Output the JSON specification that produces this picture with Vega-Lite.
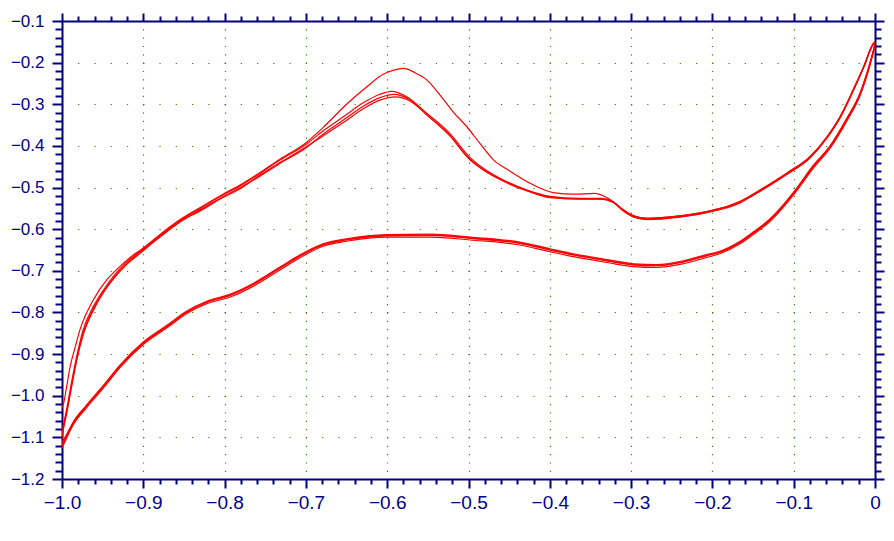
{
  "$schema": "https://vega.github.io/schema/vega-lite/v6.json",
  "width": 813,
  "height": 458,
  "autosize": "none",
  "padding": {"left": 62, "top": 21, "right": 19, "bottom": 62},
  "background": "white",
  "config": {"view": {"stroke": null}},
  "datasets": {
    "cv": [
      {"t":"1L","x":0,"y":-0.156},{"t":"1L","x":-0.006,"y":-0.200},{"t":"1L","x":-0.018,"y":-0.272},{"t":"1L","x":-0.035,"y":-0.336},{"t":"1L","x":-0.055,"y":-0.400},{"t":"1L","x":-0.076,"y":-0.449},{"t":"1L","x":-0.100,"y":-0.512},{"t":"1L","x":-0.129,"y":-0.577},{"t":"1L","x":-0.150,"y":-0.609},{"t":"1L","x":-0.166,"y":-0.631},{"t":"1L","x":-0.191,"y":-0.655},{"t":"1L","x":-0.207,"y":-0.663},{"t":"1L","x":-0.236,"y":-0.678},{"t":"1L","x":-0.269,"y":-0.687},{"t":"1L","x":-0.297,"y":-0.685},{"t":"1L","x":-0.330,"y":-0.675},{"t":"1L","x":-0.371,"y":-0.661},{"t":"1L","x":-0.400,"y":-0.649},{"t":"1L","x":-0.437,"y":-0.633},{"t":"1L","x":-0.498,"y":-0.621},{"t":"1L","x":-0.547,"y":-0.614},{"t":"1L","x":-0.601,"y":-0.615},{"t":"1L","x":-0.650,"y":-0.625},{"t":"1L","x":-0.679,"y":-0.637},{"t":"1L","x":-0.703,"y":-0.659},{"t":"1L","x":-0.732,"y":-0.693},{"t":"1L","x":-0.761,"y":-0.728},{"t":"1L","x":-0.793,"y":-0.758},{"t":"1L","x":-0.822,"y":-0.775},{"t":"1L","x":-0.847,"y":-0.799},{"t":"1L","x":-0.871,"y":-0.833},{"t":"1L","x":-0.900,"y":-0.873},{"t":"1L","x":-0.929,"y":-0.929},{"t":"1L","x":-0.949,"y":-0.976},{"t":"1L","x":-0.970,"y":-1.024},{"t":"1L","x":-0.986,"y":-1.063},{"t":"1L","x":-0.998,"y":-1.106},{"t":"1L","x":-1.0,"y":-1.112},
      {"t":"1U","x":-1.0,"y":-1.029},{"t":"1U","x":-0.998,"y":-1.018},{"t":"1U","x":-0.994,"y":-0.975},{"t":"1U","x":-0.990,"y":-0.930},{"t":"1U","x":-0.984,"y":-0.885},{"t":"1U","x":-0.978,"y":-0.842},{"t":"1U","x":-0.9615,"y":-0.770},{"t":"1U","x":-0.945,"y":-0.722},{"t":"1U","x":-0.929,"y":-0.690},{"t":"1U","x":-0.915,"y":-0.666},{"t":"1U","x":-0.902,"y":-0.648},{"t":"1U","x":-0.879,"y":-0.612},{"t":"1U","x":-0.857,"y":-0.580},{"t":"1U","x":-0.830,"y":-0.548},{"t":"1U","x":-0.802,"y":-0.516},{"t":"1U","x":-0.781,"y":-0.494},{"t":"1U","x":-0.761,"y":-0.470},{"t":"1U","x":-0.732,"y":-0.432},{"t":"1U","x":-0.701,"y":-0.394},{"t":"1U","x":-0.679,"y":-0.356},{"t":"1U","x":-0.650,"y":-0.300},{"t":"1U","x":-0.625,"y":-0.258},{"t":"1U","x":-0.605,"y":-0.228},{"t":"1U","x":-0.592,"y":-0.218},{"t":"1U","x":-0.580,"y":-0.214},{"t":"1U","x":-0.566,"y":-0.224},{"t":"1U","x":-0.551,"y":-0.242},{"t":"1U","x":-0.535,"y":-0.278},{"t":"1U","x":-0.519,"y":-0.318},{"t":"1U","x":-0.502,"y":-0.354},{"t":"1U","x":-0.486,"y":-0.394},{"t":"1U","x":-0.469,"y":-0.434},{"t":"1U","x":-0.451,"y":-0.458},{"t":"1U","x":-0.420,"y":-0.494},{"t":"1U","x":-0.396,"y":-0.512},{"t":"1U","x":-0.370,"y":-0.516},{"t":"1U","x":-0.345,"y":-0.514},{"t":"1U","x":-0.330,"y":-0.524},{"t":"1U","x":-0.322,"y":-0.534},{"t":"1U","x":-0.310,"y":-0.553},{"t":"1U","x":-0.297,"y":-0.568},{"t":"1U","x":-0.281,"y":-0.574},{"t":"1U","x":-0.240,"y":-0.568},{"t":"1U","x":-0.199,"y":-0.554},{"t":"1U","x":-0.166,"y":-0.535},{"t":"1U","x":-0.150,"y":-0.516},{"t":"1U","x":-0.109,"y":-0.466},{"t":"1U","x":-0.080,"y":-0.426},{"t":"1U","x":-0.059,"y":-0.378},{"t":"1U","x":-0.043,"y":-0.330},{"t":"1U","x":-0.027,"y":-0.266},{"t":"1U","x":-0.014,"y":-0.210},{"t":"1U","x":-0.002,"y":-0.154},{"t":"1U","x":0,"y":-0.150},

      {"t":"2L","x":0,"y":-0.158},{"t":"2L","x":-0.006,"y":-0.202},{"t":"2L","x":-0.018,"y":-0.274},{"t":"2L","x":-0.035,"y":-0.338},{"t":"2L","x":-0.055,"y":-0.402},{"t":"2L","x":-0.076,"y":-0.450},{"t":"2L","x":-0.100,"y":-0.514},{"t":"2L","x":-0.129,"y":-0.578},{"t":"2L","x":-0.150,"y":-0.610},{"t":"2L","x":-0.166,"y":-0.632},{"t":"2L","x":-0.191,"y":-0.656},{"t":"2L","x":-0.207,"y":-0.664},{"t":"2L","x":-0.236,"y":-0.679},{"t":"2L","x":-0.269,"y":-0.688},{"t":"2L","x":-0.297,"y":-0.686},{"t":"2L","x":-0.330,"y":-0.676},{"t":"2L","x":-0.371,"y":-0.662},{"t":"2L","x":-0.400,"y":-0.650},{"t":"2L","x":-0.437,"y":-0.634},{"t":"2L","x":-0.498,"y":-0.622},{"t":"2L","x":-0.547,"y":-0.615},{"t":"2L","x":-0.601,"y":-0.616},{"t":"2L","x":-0.650,"y":-0.626},{"t":"2L","x":-0.679,"y":-0.638},{"t":"2L","x":-0.703,"y":-0.660},{"t":"2L","x":-0.732,"y":-0.694},{"t":"2L","x":-0.761,"y":-0.729},{"t":"2L","x":-0.793,"y":-0.759},{"t":"2L","x":-0.822,"y":-0.776},{"t":"2L","x":-0.847,"y":-0.800},{"t":"2L","x":-0.871,"y":-0.834},{"t":"2L","x":-0.900,"y":-0.874},{"t":"2L","x":-0.929,"y":-0.930},{"t":"2L","x":-0.949,"y":-0.978},{"t":"2L","x":-0.970,"y":-1.026},{"t":"2L","x":-0.986,"y":-1.066},{"t":"2L","x":-0.998,"y":-1.114},{"t":"2L","x":-1.0,"y":-1.122},
      {"t":"2U","x":-1.0,"y":-1.094},{"t":"2U","x":-0.999,"y":-1.080},{"t":"2U","x":-0.994,"y":-1.030},{"t":"2U","x":-0.990,"y":-0.986},{"t":"2U","x":-0.982,"y":-0.906},{"t":"2U","x":-0.974,"y":-0.842},{"t":"2U","x":-0.9615,"y":-0.786},{"t":"2U","x":-0.949,"y":-0.746},{"t":"2U","x":-0.937,"y":-0.714},{"t":"2U","x":-0.920,"y":-0.678},{"t":"2U","x":-0.902,"y":-0.650},{"t":"2U","x":-0.879,"y":-0.614},{"t":"2U","x":-0.857,"y":-0.582},{"t":"2U","x":-0.830,"y":-0.550},{"t":"2U","x":-0.802,"y":-0.518},{"t":"2U","x":-0.781,"y":-0.496},{"t":"2U","x":-0.761,"y":-0.472},{"t":"2U","x":-0.732,"y":-0.434},{"t":"2U","x":-0.701,"y":-0.398},{"t":"2U","x":-0.679,"y":-0.364},{"t":"2U","x":-0.654,"y":-0.330},{"t":"2U","x":-0.629,"y":-0.296},{"t":"2U","x":-0.609,"y":-0.276},{"t":"2U","x":-0.595,"y":-0.269},{"t":"2U","x":-0.576,"y":-0.282},{"t":"2U","x":-0.551,"y":-0.322},{"t":"2U","x":-0.523,"y":-0.370},{"t":"2U","x":-0.498,"y":-0.428},{"t":"2U","x":-0.480,"y":-0.456},{"t":"2U","x":-0.457,"y":-0.482},{"t":"2U","x":-0.428,"y":-0.506},{"t":"2U","x":-0.400,"y":-0.521},{"t":"2U","x":-0.363,"y":-0.526},{"t":"2U","x":-0.338,"y":-0.526},{"t":"2U","x":-0.322,"y":-0.534},{"t":"2U","x":-0.310,"y":-0.553},{"t":"2U","x":-0.297,"y":-0.568},{"t":"2U","x":-0.281,"y":-0.574},{"t":"2U","x":-0.240,"y":-0.568},{"t":"2U","x":-0.199,"y":-0.554},{"t":"2U","x":-0.166,"y":-0.534},{"t":"2U","x":-0.150,"y":-0.516},{"t":"2U","x":-0.109,"y":-0.466},{"t":"2U","x":-0.080,"y":-0.426},{"t":"2U","x":-0.059,"y":-0.378},{"t":"2U","x":-0.043,"y":-0.330},{"t":"2U","x":-0.027,"y":-0.266},{"t":"2U","x":-0.014,"y":-0.210},{"t":"2U","x":-0.002,"y":-0.154},{"t":"2U","x":0,"y":-0.150},

      {"t":"3L","x":0,"y":-0.160},{"t":"3L","x":-0.006,"y":-0.205},{"t":"3L","x":-0.018,"y":-0.277},{"t":"3L","x":-0.035,"y":-0.341},{"t":"3L","x":-0.055,"y":-0.405},{"t":"3L","x":-0.076,"y":-0.454},{"t":"3L","x":-0.100,"y":-0.517},{"t":"3L","x":-0.129,"y":-0.581},{"t":"3L","x":-0.150,"y":-0.613},{"t":"3L","x":-0.166,"y":-0.635},{"t":"3L","x":-0.191,"y":-0.659},{"t":"3L","x":-0.207,"y":-0.668},{"t":"3L","x":-0.236,"y":-0.683},{"t":"3L","x":-0.269,"y":-0.692},{"t":"3L","x":-0.297,"y":-0.690},{"t":"3L","x":-0.330,"y":-0.680},{"t":"3L","x":-0.371,"y":-0.666},{"t":"3L","x":-0.400,"y":-0.654},{"t":"3L","x":-0.437,"y":-0.638},{"t":"3L","x":-0.498,"y":-0.626},{"t":"3L","x":-0.547,"y":-0.619},{"t":"3L","x":-0.601,"y":-0.619},{"t":"3L","x":-0.650,"y":-0.629},{"t":"3L","x":-0.679,"y":-0.641},{"t":"3L","x":-0.703,"y":-0.664},{"t":"3L","x":-0.732,"y":-0.698},{"t":"3L","x":-0.761,"y":-0.733},{"t":"3L","x":-0.793,"y":-0.763},{"t":"3L","x":-0.822,"y":-0.779},{"t":"3L","x":-0.847,"y":-0.803},{"t":"3L","x":-0.871,"y":-0.837},{"t":"3L","x":-0.900,"y":-0.877},{"t":"3L","x":-0.929,"y":-0.933},{"t":"3L","x":-0.949,"y":-0.981},{"t":"3L","x":-0.970,"y":-1.029},{"t":"3L","x":-0.986,"y":-1.069},{"t":"3L","x":-0.998,"y":-1.117},{"t":"3L","x":-1.0,"y":-1.125},
      {"t":"3U","x":-1.0,"y":-1.100},{"t":"3U","x":-0.999,"y":-1.086},{"t":"3U","x":-0.994,"y":-1.036},{"t":"3U","x":-0.990,"y":-0.994},{"t":"3U","x":-0.982,"y":-0.912},{"t":"3U","x":-0.974,"y":-0.850},{"t":"3U","x":-0.9615,"y":-0.792},{"t":"3U","x":-0.949,"y":-0.750},{"t":"3U","x":-0.937,"y":-0.718},{"t":"3U","x":-0.920,"y":-0.682},{"t":"3U","x":-0.902,"y":-0.652},{"t":"3U","x":-0.879,"y":-0.618},{"t":"3U","x":-0.857,"y":-0.586},{"t":"3U","x":-0.830,"y":-0.553},{"t":"3U","x":-0.802,"y":-0.522},{"t":"3U","x":-0.781,"y":-0.500},{"t":"3U","x":-0.761,"y":-0.478},{"t":"3U","x":-0.732,"y":-0.442},{"t":"3U","x":-0.701,"y":-0.406},{"t":"3U","x":-0.679,"y":-0.372},{"t":"3U","x":-0.654,"y":-0.338},{"t":"3U","x":-0.629,"y":-0.304},{"t":"3U","x":-0.609,"y":-0.284},{"t":"3U","x":-0.592,"y":-0.276},{"t":"3U","x":-0.573,"y":-0.288},{"t":"3U","x":-0.551,"y":-0.326},{"t":"3U","x":-0.523,"y":-0.374},{"t":"3U","x":-0.498,"y":-0.432},{"t":"3U","x":-0.480,"y":-0.459},{"t":"3U","x":-0.457,"y":-0.485},{"t":"3U","x":-0.428,"y":-0.508},{"t":"3U","x":-0.400,"y":-0.523},{"t":"3U","x":-0.363,"y":-0.528},{"t":"3U","x":-0.338,"y":-0.528},{"t":"3U","x":-0.322,"y":-0.536},{"t":"3U","x":-0.310,"y":-0.555},{"t":"3U","x":-0.297,"y":-0.570},{"t":"3U","x":-0.281,"y":-0.577},{"t":"3U","x":-0.240,"y":-0.571},{"t":"3U","x":-0.199,"y":-0.557},{"t":"3U","x":-0.166,"y":-0.537},{"t":"3U","x":-0.150,"y":-0.519},{"t":"3U","x":-0.109,"y":-0.469},{"t":"3U","x":-0.080,"y":-0.429},{"t":"3U","x":-0.059,"y":-0.381},{"t":"3U","x":-0.043,"y":-0.333},{"t":"3U","x":-0.027,"y":-0.269},{"t":"3U","x":-0.014,"y":-0.212},{"t":"3U","x":-0.002,"y":-0.156},{"t":"3U","x":0,"y":-0.152},

      {"t":"4L","x":0,"y":-0.156},{"t":"4L","x":-0.006,"y":-0.199},{"t":"4L","x":-0.018,"y":-0.271},{"t":"4L","x":-0.035,"y":-0.335},{"t":"4L","x":-0.055,"y":-0.399},{"t":"4L","x":-0.076,"y":-0.447},{"t":"4L","x":-0.100,"y":-0.511},{"t":"4L","x":-0.129,"y":-0.575},{"t":"4L","x":-0.150,"y":-0.607},{"t":"4L","x":-0.166,"y":-0.629},{"t":"4L","x":-0.191,"y":-0.653},{"t":"4L","x":-0.207,"y":-0.661},{"t":"4L","x":-0.236,"y":-0.676},{"t":"4L","x":-0.269,"y":-0.685},{"t":"4L","x":-0.297,"y":-0.683},{"t":"4L","x":-0.330,"y":-0.673},{"t":"4L","x":-0.371,"y":-0.659},{"t":"4L","x":-0.400,"y":-0.647},{"t":"4L","x":-0.437,"y":-0.631},{"t":"4L","x":-0.498,"y":-0.619},{"t":"4L","x":-0.547,"y":-0.612},{"t":"4L","x":-0.601,"y":-0.613},{"t":"4L","x":-0.650,"y":-0.623},{"t":"4L","x":-0.679,"y":-0.635},{"t":"4L","x":-0.703,"y":-0.657},{"t":"4L","x":-0.732,"y":-0.691},{"t":"4L","x":-0.761,"y":-0.726},{"t":"4L","x":-0.793,"y":-0.756},{"t":"4L","x":-0.822,"y":-0.773},{"t":"4L","x":-0.847,"y":-0.797},{"t":"4L","x":-0.871,"y":-0.831},{"t":"4L","x":-0.900,"y":-0.871},{"t":"4L","x":-0.929,"y":-0.927},{"t":"4L","x":-0.949,"y":-0.975},{"t":"4L","x":-0.970,"y":-1.023},{"t":"4L","x":-0.986,"y":-1.063},{"t":"4L","x":-0.998,"y":-1.111},{"t":"4L","x":-1.0,"y":-1.119},
      {"t":"4U","x":-1.0,"y":-1.104},{"t":"4U","x":-0.999,"y":-1.090},{"t":"4U","x":-0.994,"y":-1.040},{"t":"4U","x":-0.990,"y":-0.998},{"t":"4U","x":-0.982,"y":-0.916},{"t":"4U","x":-0.974,"y":-0.854},{"t":"4U","x":-0.9615,"y":-0.795},{"t":"4U","x":-0.949,"y":-0.752},{"t":"4U","x":-0.937,"y":-0.720},{"t":"4U","x":-0.920,"y":-0.684},{"t":"4U","x":-0.902,"y":-0.655},{"t":"4U","x":-0.879,"y":-0.617},{"t":"4U","x":-0.857,"y":-0.584},{"t":"4U","x":-0.830,"y":-0.556},{"t":"4U","x":-0.802,"y":-0.524},{"t":"4U","x":-0.781,"y":-0.503},{"t":"4U","x":-0.761,"y":-0.476},{"t":"4U","x":-0.732,"y":-0.440},{"t":"4U","x":-0.701,"y":-0.404},{"t":"4U","x":-0.679,"y":-0.376},{"t":"4U","x":-0.654,"y":-0.344},{"t":"4U","x":-0.629,"y":-0.310},{"t":"4U","x":-0.609,"y":-0.290},{"t":"4U","x":-0.590,"y":-0.282},{"t":"4U","x":-0.572,"y":-0.292},{"t":"4U","x":-0.551,"y":-0.326},{"t":"4U","x":-0.523,"y":-0.376},{"t":"4U","x":-0.498,"y":-0.434},{"t":"4U","x":-0.480,"y":-0.460},{"t":"4U","x":-0.457,"y":-0.484},{"t":"4U","x":-0.428,"y":-0.507},{"t":"4U","x":-0.400,"y":-0.524},{"t":"4U","x":-0.363,"y":-0.527},{"t":"4U","x":-0.338,"y":-0.527},{"t":"4U","x":-0.322,"y":-0.535},{"t":"4U","x":-0.310,"y":-0.556},{"t":"4U","x":-0.297,"y":-0.571},{"t":"4U","x":-0.281,"y":-0.576},{"t":"4U","x":-0.240,"y":-0.570},{"t":"4U","x":-0.199,"y":-0.556},{"t":"4U","x":-0.166,"y":-0.533},{"t":"4U","x":-0.150,"y":-0.518},{"t":"4U","x":-0.109,"y":-0.468},{"t":"4U","x":-0.080,"y":-0.428},{"t":"4U","x":-0.059,"y":-0.380},{"t":"4U","x":-0.043,"y":-0.332},{"t":"4U","x":-0.027,"y":-0.268},{"t":"4U","x":-0.014,"y":-0.211},{"t":"4U","x":-0.002,"y":-0.155},{"t":"4U","x":0,"y":-0.151}
    ]
  },
  "data": {"name": "cv"},
  "resolve": {"axis": {"x": "independent", "y": "independent"}},
  "layer": [
    {
      "transform": [{"filter": "indexof(['1L','1U','2L','2U'], datum.t) >= 0"}],
      "mark": {"type": "line", "color": "#ff0000", "strokeWidth": 1.2, "clip": true, "interpolate": "monotone"},
      "encoding": {
        "x": {
          "field": "x", "type": "quantitative",
          "scale": {"domain": [-1, 0], "nice": false, "zero": false},
          "axis": {
            "orient": "bottom", "title": null,
            "values": [-1,-0.98,-0.96,-0.94,-0.92,-0.9,-0.88,-0.86,-0.84,-0.82,-0.8,-0.78,-0.76,-0.74,-0.72,-0.7,-0.68,-0.66,-0.64,-0.62,-0.6,-0.58,-0.56,-0.54,-0.52,-0.5,-0.48,-0.46,-0.44,-0.42,-0.4,-0.38,-0.36,-0.34,-0.32,-0.3,-0.28,-0.26,-0.24,-0.22,-0.2,-0.18,-0.16,-0.14,-0.12,-0.1,-0.08,-0.06,-0.04,-0.02,0],
            "labelExpr": "abs(datum.value*10-round(datum.value*10))<1e-6 ? (datum.value==0 ? '0' : format(datum.value,'.1f')) : ''",
            "labelFont": "Liberation Sans", "labelFontSize": 19, "labelColor": "#00008b", "labelPadding": 5,
            "labelFlush": false, "labelOverlap": false,
            "domainColor": "#000080", "domainWidth": 2,
            "tickColor": "#000080", "tickWidth": 2,
            "tickSize": {"condition": {"test": "abs(datum.value*10-round(datum.value*10))<1e-6", "value": 9}, "value": 5},
            "grid": true, "gridColor": "#3f7a00", "gridWidth": 1.2, "gridDash": [1.2, 7.13], "gridDashOffset": 0.6,
            "gridOpacity": {"condition": {"test": "abs(datum.value*10-round(datum.value*10))<1e-6", "value": 1}, "value": 0}
          }
        },
        "y": {
          "field": "y", "type": "quantitative",
          "scale": {"domain": [-1.2, -0.1], "nice": false, "zero": false},
          "axis": {
            "orient": "left", "title": null,
            "values": [-1.2,-1.18,-1.16,-1.14,-1.12,-1.1,-1.08,-1.06,-1.04,-1.02,-1,-0.98,-0.96,-0.94,-0.92,-0.9,-0.88,-0.86,-0.84,-0.82,-0.8,-0.78,-0.76,-0.74,-0.72,-0.7,-0.68,-0.66,-0.64,-0.62,-0.6,-0.58,-0.56,-0.54,-0.52,-0.5,-0.48,-0.46,-0.44,-0.42,-0.4,-0.38,-0.36,-0.34,-0.32,-0.3,-0.28,-0.26,-0.24,-0.22,-0.2,-0.18,-0.16,-0.14,-0.12,-0.1],
            "labelExpr": "abs(datum.value*10-round(datum.value*10))<1e-6 ? format(datum.value,'.1f') : ''",
            "labelFont": "Liberation Sans", "labelFontSize": 17, "labelColor": "#00008b", "labelPadding": 8,
            "labelFlush": false, "labelOverlap": false,
            "domainColor": "#000080", "domainWidth": 2,
            "tickColor": "#000080", "tickWidth": 2,
            "tickSize": {"condition": {"test": "abs(datum.value*10-round(datum.value*10))<1e-6", "value": 10}, "value": 7},
            "grid": true, "gridColor": "#3f7a00", "gridWidth": 1.2, "gridDash": [1.2, 15.06], "gridDashOffset": 0.6,
            "gridOpacity": {"condition": {"test": "abs(datum.value*10-round(datum.value*10))<1e-6", "value": 1}, "value": 0}
          }
        },
        "detail": {"field": "t", "type": "nominal"}
      }
    },
    {
      "transform": [{"filter": "indexof(['3L','3U','4L','4U'], datum.t) >= 0"}],
      "mark": {"type": "line", "color": "#ff0000", "strokeWidth": 1.2, "clip": true, "interpolate": "monotone"},
      "encoding": {
        "x": {
          "field": "x", "type": "quantitative",
          "scale": {"domain": [-1, 0], "nice": false, "zero": false},
          "axis": {
            "orient": "top", "title": null, "labels": false, "grid": false,
            "values": [-1,-0.98,-0.96,-0.94,-0.92,-0.9,-0.88,-0.86,-0.84,-0.82,-0.8,-0.78,-0.76,-0.74,-0.72,-0.7,-0.68,-0.66,-0.64,-0.62,-0.6,-0.58,-0.56,-0.54,-0.52,-0.5,-0.48,-0.46,-0.44,-0.42,-0.4,-0.38,-0.36,-0.34,-0.32,-0.3,-0.28,-0.26,-0.24,-0.22,-0.2,-0.18,-0.16,-0.14,-0.12,-0.1,-0.08,-0.06,-0.04,-0.02,0],
            "domainColor": "#000080", "domainWidth": 2,
            "tickColor": "#000080", "tickWidth": 2,
            "tickSize": {"condition": {"test": "abs(datum.value*10-round(datum.value*10))<1e-6", "value": 8}, "value": 5}
          }
        },
        "y": {
          "field": "y", "type": "quantitative",
          "scale": {"domain": [-1.2, -0.1], "nice": false, "zero": false},
          "axis": {
            "orient": "right", "title": null, "labels": false, "grid": false,
            "values": [-1.2,-1.18,-1.16,-1.14,-1.12,-1.1,-1.08,-1.06,-1.04,-1.02,-1,-0.98,-0.96,-0.94,-0.92,-0.9,-0.88,-0.86,-0.84,-0.82,-0.8,-0.78,-0.76,-0.74,-0.72,-0.7,-0.68,-0.66,-0.64,-0.62,-0.6,-0.58,-0.56,-0.54,-0.52,-0.5,-0.48,-0.46,-0.44,-0.42,-0.4,-0.38,-0.36,-0.34,-0.32,-0.3,-0.28,-0.26,-0.24,-0.22,-0.2,-0.18,-0.16,-0.14,-0.12,-0.1],
            "domainColor": "#000080", "domainWidth": 2,
            "tickColor": "#000080", "tickWidth": 2,
            "tickSize": {"condition": {"test": "abs(datum.value*10-round(datum.value*10))<1e-6", "value": 9}, "value": 6}
          }
        },
        "detail": {"field": "t", "type": "nominal"}
      }
    }
  ]
}
